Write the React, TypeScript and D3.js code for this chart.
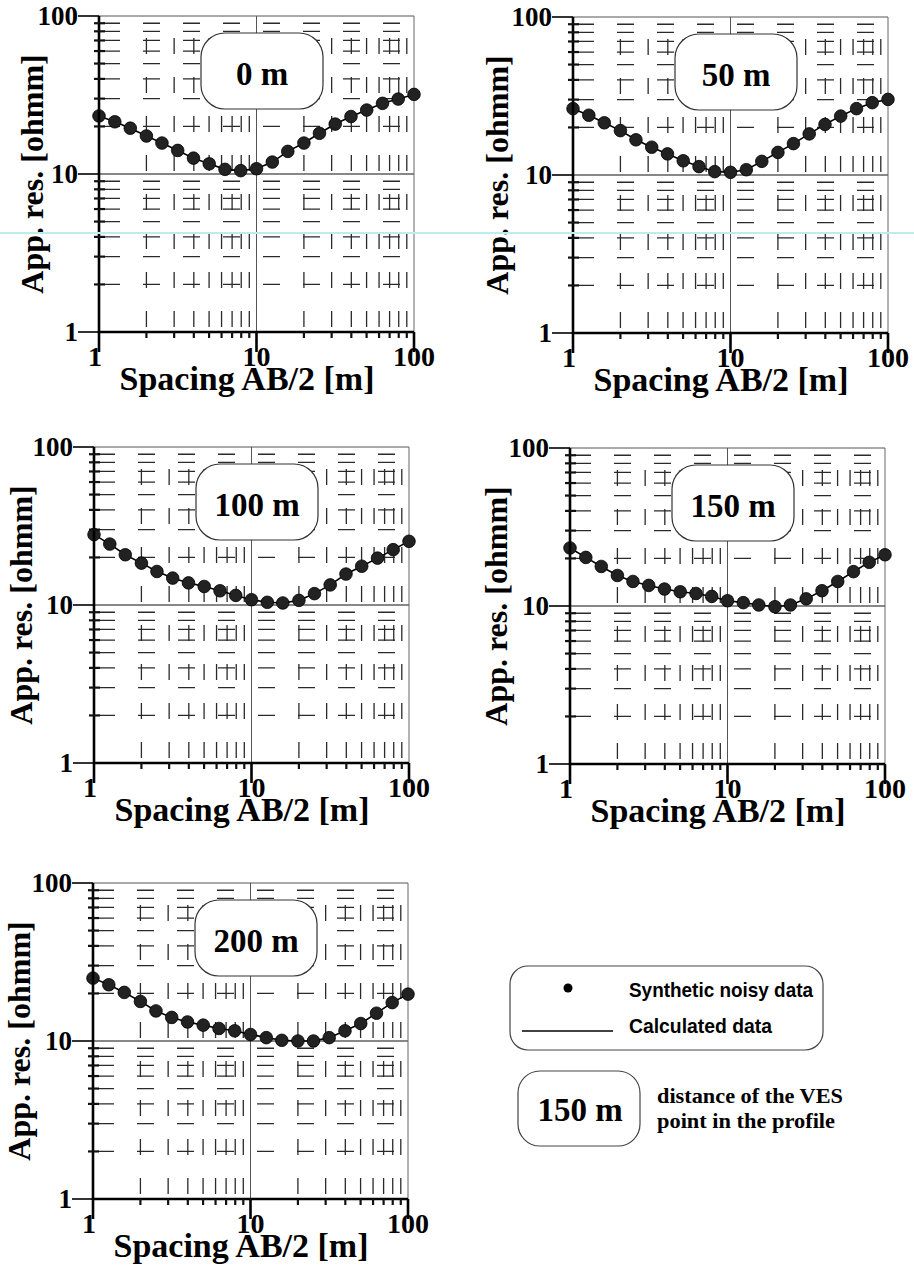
import React from 'react';
import * as d3 from 'd3';

// AB/2 spacings, 10 per decade
const spacing = [1, 1.26, 1.58, 2, 2.51, 3.16, 3.98, 5.01, 6.31, 7.94, 10, 12.6, 15.8, 20, 25.1, 31.6, 39.8, 50.1, 63.1, 79.4, 100];

const res0 = [23.3, 21.4, 19.5, 17.4, 15.7, 14.1, 12.6, 11.6, 10.7, 10.5, 10.8, 11.9, 13.9, 15.7, 18.1, 20.7, 23.1, 25.4, 28.0, 29.8, 31.9];
const res50 = [26.3, 23.9, 21.4, 19.1, 16.7, 15.0, 13.6, 12.3, 11.3, 10.5, 10.4, 10.8, 12.2, 13.9, 15.8, 18.2, 20.9, 23.6, 26.3, 28.7, 30.1];
const res100 = [27.9, 24.3, 20.8, 18.4, 16.3, 14.8, 13.8, 13.1, 12.3, 11.5, 10.8, 10.4, 10.3, 10.7, 11.8, 13.4, 15.7, 17.6, 19.8, 22.4, 25.3];
const res150 = [23.3, 20.3, 17.8, 15.6, 14.3, 13.5, 12.8, 12.3, 12.0, 11.5, 10.8, 10.5, 10.15, 9.9, 10.15, 11.1, 12.5, 14.3, 16.5, 18.9, 21.1];
const res200 = [25.0, 22.7, 20.3, 17.8, 15.5, 14.1, 13.2, 12.6, 12.0, 11.6, 11.0, 10.5, 10.1, 10.0, 10.0, 10.5, 11.6, 12.9, 15.0, 17.5, 19.8];

const series = [res0, res50, res100, res150, res200];
const panelLabels = ['0 m', '50 m', '100 m', '150 m', '200 m'];
const tickLabels = [1, 10, 100];

const xTitle = 'Spacing AB/2 [m]';
const yTitle = 'App. res. [ohmm]';

const W = 315;
const H = 316;
const SERIF = '"Liberation Serif", "Times New Roman", serif';
const NARROW = '"Liberation Sans Narrow", "Liberation Sans", sans-serif';

// plot origins (left, top) and y-title offset
const layout = [
  { x0: 99, y0: 16, ylab: -56 },
  { x0: 573, y0: 17, ylab: -65 },
  { x0: 94, y0: 447, ylab: -62 },
  { x0: 570, y0: 448, ylab: -63 },
  { x0: 93, y0: 883, ylab: -63 },
];

const Panel = ({ x0, y0, ylab, values, label }: any) => {
  const x = d3.scaleLog().domain([1, 100]).range([x0, x0 + W]);
  const y = d3.scaleLog().domain([1, 100]).range([y0 + H, y0]);
  const minor = x.ticks().filter((t) => !tickLabels.includes(t));
  const bottom = y0 + H;

  const line = d3
    .line<number>()
    .x((d, i) => x(spacing[i]))
    .y((d) => y(d));

  return (
    <g>
      {/* minor grid: dashed, gives the cross pattern */}
      {minor.map((t) => (
        <line
          key={'gx' + t}
          x1={x(t)} x2={x(t)} y1={bottom} y2={y0}
          stroke="#2a2a2a" strokeWidth={1.3}
          strokeDasharray="16 23" strokeDashoffset={34}
        />
      ))}
      {minor.map((t) => (
        <line
          key={'gy' + t}
          x1={x0} x2={x0 + W} y1={y(t)} y2={y(t)}
          stroke="#2a2a2a" strokeWidth={1.3}
          strokeDasharray="17 23" strokeDashoffset={36}
        />
      ))}
      {/* major grid */}
      <line x1={x(10)} x2={x(10)} y1={bottom} y2={y0} stroke="#555" strokeWidth={1} />
      <line x1={x0} x2={x0 + W} y1={y(10)} y2={y(10)} stroke="#111" strokeWidth={1.2} />
      <line x1={x0} x2={x0 + W} y1={y0} y2={y0} stroke="#555" strokeWidth={1} />
      <line x1={x0 + W} x2={x0 + W} y1={y0} y2={bottom} stroke="#666" strokeWidth={1} />

      {/* label box */}
      <rect x={x0 + 102} y={y0 + 17} width={122} height={76} rx={24} fill="#fff" stroke="#333" strokeWidth={1.2} />
      <text x={x0 + 163} y={y0 + 69} textAnchor="middle" fontFamily={SERIF} fontWeight="bold" fontSize={33}>
        {label}
      </text>

      {/* calculated data + noisy points */}
      <path d={line(values) || ''} fill="none" stroke="#000" strokeWidth={1.6} />
      {values.map((d: number, i: number) => (
        <circle key={i} cx={x(spacing[i])} cy={y(d)} r={6.3} fill="#222" stroke="#000" strokeWidth={0.8} />
      ))}

      {/* axes */}
      <line x1={x0} x2={x0} y1={y0} y2={bottom + 1} stroke="#000" strokeWidth={2.6} />
      <line x1={x0 - 1} x2={x0 + W} y1={bottom} y2={bottom} stroke="#000" strokeWidth={2.6} />
      {minor.map((t) => (
        <g key={'t' + t}>
          <line x1={x0 - 5} x2={x0 + 6} y1={y(t)} y2={y(t)} stroke="#111" strokeWidth={2.2} />
          <line x1={x(t)} x2={x(t)} y1={bottom} y2={bottom + 6} stroke="#111" strokeWidth={2.2} />
        </g>
      ))}
      {tickLabels.map((t) => (
        <g key={'m' + t}>
          <line x1={x0 - 21} x2={x0} y1={y(t)} y2={y(t)} stroke="#000" strokeWidth={1.6} />
          <text x={x0 - 21} y={y(t) + 9} textAnchor="end" fontFamily={SERIF} fontWeight="bold" fontSize={27}>
            {t}
          </text>
          <line x1={x(t)} x2={x(t)} y1={bottom} y2={bottom + 20} stroke="#000" strokeWidth={2.6} />
          <text x={x(t) - (t === 1 ? 4 : 0)} y={bottom + 34} textAnchor="middle" fontFamily={SERIF} fontWeight="bold" fontSize={28}>
            {t}
          </text>
        </g>
      ))}

      <text x={x0 + 148} y={bottom + 58} textAnchor="middle" fontFamily={SERIF} fontWeight="bold" fontSize={34}>
        {xTitle}
      </text>
      <text
        transform={`translate(${x0 + ylab}, ${y0 + H / 2}) rotate(-90)`}
        textAnchor="middle" fontFamily={SERIF} fontWeight="bold" fontSize={32}
      >
        {yTitle}
      </text>
    </g>
  );
};

const App = () => {
  return (
    <svg
      width={914}
      height={1271}
      viewBox="0 0 914 1271"
      style={{ position: 'absolute', left: 0, top: 0, background: '#fff' }}
    >
      <rect width={914} height={1271} fill="#fff" />
      {layout.map((p, i) => (
        <Panel key={i} {...p} values={series[i]} label={panelLabels[i]} />
      ))}

      {/* scan artifact line */}
      <line x1={0} x2={914} y1={233} y2={233} stroke="#bdecef" strokeWidth={2} />

      {/* legend */}
      <rect x={510} y={966} width={313} height={84} rx={18} fill="#fff" stroke="#444" strokeWidth={1.2} />
      <circle cx={568} cy={988} r={4.5} fill="#000" />
      <text x={629} y={997} fontFamily={NARROW} fontWeight="bold" fontSize={21} textLength={184} lengthAdjust="spacingAndGlyphs">Synthetic noisy data</text>
      <line x1={522} x2={613} y1={1031} y2={1031} stroke="#000" strokeWidth={1.5} />
      <text x={629} y={1033} fontFamily={NARROW} fontWeight="bold" fontSize={21} textLength={143} lengthAdjust="spacingAndGlyphs">Calculated data</text>

      <rect x={518} y={1071} width={122} height={75} rx={22} fill="#fff" stroke="#444" strokeWidth={1.2} />
      <text x={580} y={1121} textAnchor="middle" fontFamily={SERIF} fontWeight="bold" fontSize={33}>150 m</text>
      <text x={657} y={1103} fontFamily={SERIF} fontWeight="bold" fontSize={21} textLength={186} lengthAdjust="spacingAndGlyphs">distance of the VES</text>
      <text x={657} y={1128} fontFamily={SERIF} fontWeight="bold" fontSize={21} textLength={178} lengthAdjust="spacingAndGlyphs">point in the profile</text>
    </svg>
  );
};

export default App;
